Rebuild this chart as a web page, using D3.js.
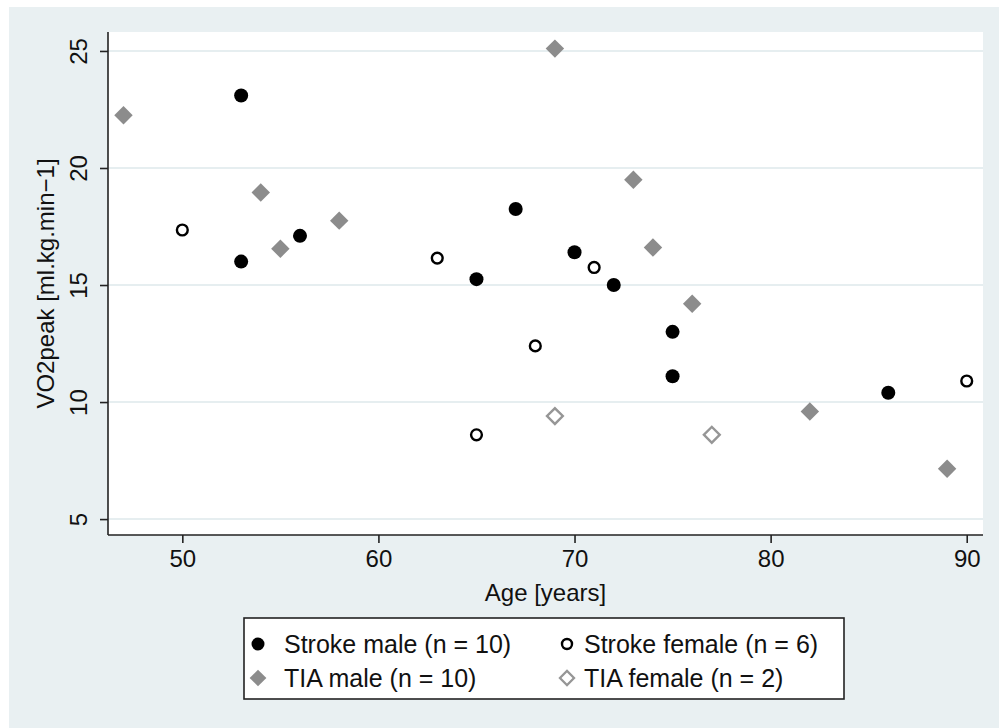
<!DOCTYPE html>
<html>
<head>
<meta charset="utf-8">
<script src="https://cdn.jsdelivr.net/npm/d3@7"></script>
<style>
  body { margin: 0; background: #fff; }
  text { font-family: "Liberation Sans", Arial, sans-serif; fill: #111; }
</style>
</head>
<body>
<svg id="chart" width="999" height="728"></svg>
<script>
// data: [age, VO2peak]
var strokeMale = [[53, 23.1], [53, 16.0], [56, 17.1], [65, 15.25], [67, 18.25],
                  [70, 16.4], [72, 15.0], [75, 13.0], [75, 11.1], [86, 10.4]];
var strokeFemale = [[50, 17.35], [63, 16.15], [65, 8.6], [68, 12.4], [71, 15.75], [90, 10.9]];
var tiaMale = [[47, 22.25], [54, 18.95], [55, 16.55], [58, 17.75], [69, 25.1],
               [73, 19.5], [74, 16.6], [76, 14.2], [82, 9.6], [89, 7.15]];
var tiaFemale = [[69, 9.4], [77, 8.6]];

var xTicks = [50, 60, 70, 80, 90];
var yTicks = [5, 10, 15, 20, 25];
var legendLabels = ["Stroke male (n = 10)", "Stroke female (n = 6)",
                    "TIA male (n = 10)", "TIA female (n = 2)"];

var svg = d3.select("#chart");

// outer graph region
svg.append("rect").attr("x", 9).attr("y", 7).attr("width", 990).attr("height", 721)
    .attr("fill", "#e9f0f2");

var pLeft = 108, pRight = 983, pTop = 32, pBottom = 535;

svg.append("rect").attr("x", pLeft).attr("y", pTop)
    .attr("width", pRight - pLeft).attr("height", pBottom - pTop)
    .attr("fill", "#fff");

var x = d3.scaleLinear().domain([46.21, 90.83]).range([pLeft, pRight]);
var y = d3.scaleLinear().domain([4.32, 25.81]).range([pBottom, pTop]);

/* grid lines */
svg.append("g").selectAll("line").data(yTicks).enter().append("line")
    .attr("x1", pLeft).attr("x2", pRight)
    .attr("y1", function(d) { return y(d); })
    .attr("y2", function(d) { return y(d); })
    .attr("stroke", "#e6eef0").attr("stroke-width", 2);

var xAxis = svg.append("g").attr("transform", "translate(0," + pBottom + ")")
    .call(d3.axisBottom(x).tickValues(xTicks).tickSize(8).tickPadding(6));
var yAxis = svg.append("g").attr("transform", "translate(" + pLeft + ",0)")
    .call(d3.axisLeft(y).tickValues(yTicks).tickSize(8).tickPadding(6));

xAxis.select(".domain").attr("d", "M" + pLeft + ",0H" + pRight);
yAxis.select(".domain").attr("d", "M0," + pTop + "V" + pBottom);
[xAxis, yAxis].forEach(function(a) {
    a.select(".domain").attr("stroke", "#222").attr("stroke-width", 1.6);
    a.selectAll(".tick line").attr("stroke", "#222").attr("stroke-width", 1.6);
    a.selectAll(".tick text").style("font-size", "24px").attr("fill", "#111")
        .style("font-family", "'Liberation Sans', Arial, sans-serif");
});
xAxis.selectAll(".tick text").attr("y", 0).attr("dy", 0)
    .attr("dominant-baseline", "central")
    .attr("transform", "translate(0,23)");
yAxis.selectAll(".tick text")
    .attr("text-anchor", "middle")
    .attr("x", 0).attr("dy", 0)
    .attr("transform", "translate(-30,0) rotate(-90)")
    .attr("dominant-baseline", "central");

svg.append("text").attr("x", (pLeft + pRight) / 2).attr("y", 592)
    .attr("text-anchor", "middle").attr("dominant-baseline", "central")
    .style("font-size", "24px").text("Age [years]");
svg.append("text").attr("transform", "translate(45," + (pTop + pBottom) / 2 + ") rotate(-90)")
    .attr("text-anchor", "middle").attr("dominant-baseline", "central")
    .style("font-size", "24px").text("VO2peak [ml.kg.min\u22121]");

/* markers */
var diamond = d3.symbol().type(d3.symbolSquare).size(170);
var diamondOpen = d3.symbol().type(d3.symbolSquare).size(125);

function drawCircles(data, filled) {
    svg.append("g").selectAll("circle").data(data).enter().append("circle")
        .attr("cx", function(d) { return x(d[0]); })
        .attr("cy", function(d) { return y(d[1]); })
        .attr("r", filled ? 7 : 5.4)
        .attr("fill", filled ? "#000" : "#fff")
        .attr("stroke", "#000")
        .attr("stroke-width", filled ? 0 : 2.4);
}
function drawDiamonds(data, filled) {
    svg.append("g").selectAll("path").data(data).enter().append("path")
        .attr("d", filled ? diamond : diamondOpen)
        .attr("transform", function(d) {
            return "translate(" + x(d[0]) + "," + y(d[1]) + ") rotate(45)";
        })
        .attr("fill", filled ? "#8c8c8c" : "#fff")
        .attr("stroke", filled ? "none" : "#969696")
        .attr("stroke-width", 2.4);
}
drawCircles(strokeMale, true);
drawCircles(strokeFemale, false);
drawDiamonds(tiaMale, true);
drawDiamonds(tiaFemale, false);

/* legend */
var lg = svg.append("g");
lg.append("rect").attr("x", 244).attr("y", 618).attr("width", 600).attr("height", 81)
    .attr("fill", "#fff").attr("stroke", "#222").attr("stroke-width", 1.6);

var legendPos = [[258, 644], [567, 644], [258, 678], [567, 678]];
legendLabels.forEach(function(lab, i) {
    var p = legendPos[i];
    if (i === 0) lg.append("circle").attr("cx", p[0]).attr("cy", p[1]).attr("r", 6.5).attr("fill", "#000");
    if (i === 1) lg.append("circle").attr("cx", p[0]).attr("cy", p[1]).attr("r", 5)
        .attr("fill", "#fff").attr("stroke", "#000").attr("stroke-width", 2.4);
    if (i === 2) lg.append("path").attr("d", d3.symbol().type(d3.symbolSquare).size(140))
        .attr("transform", "translate(" + p[0] + "," + p[1] + ") rotate(45)").attr("fill", "#8c8c8c");
    if (i === 3) lg.append("path").attr("d", d3.symbol().type(d3.symbolSquare).size(100))
        .attr("transform", "translate(" + p[0] + "," + p[1] + ") rotate(45)")
        .attr("fill", "#fff").attr("stroke", "#969696").attr("stroke-width", 2.2);
    lg.append("text").attr("x", p[0] + (i % 2 ? 17 : 26)).attr("y", p[1])
        .attr("dominant-baseline", "central").style("font-size", "25px").text(lab);
});
</script>
</body>
</html>
